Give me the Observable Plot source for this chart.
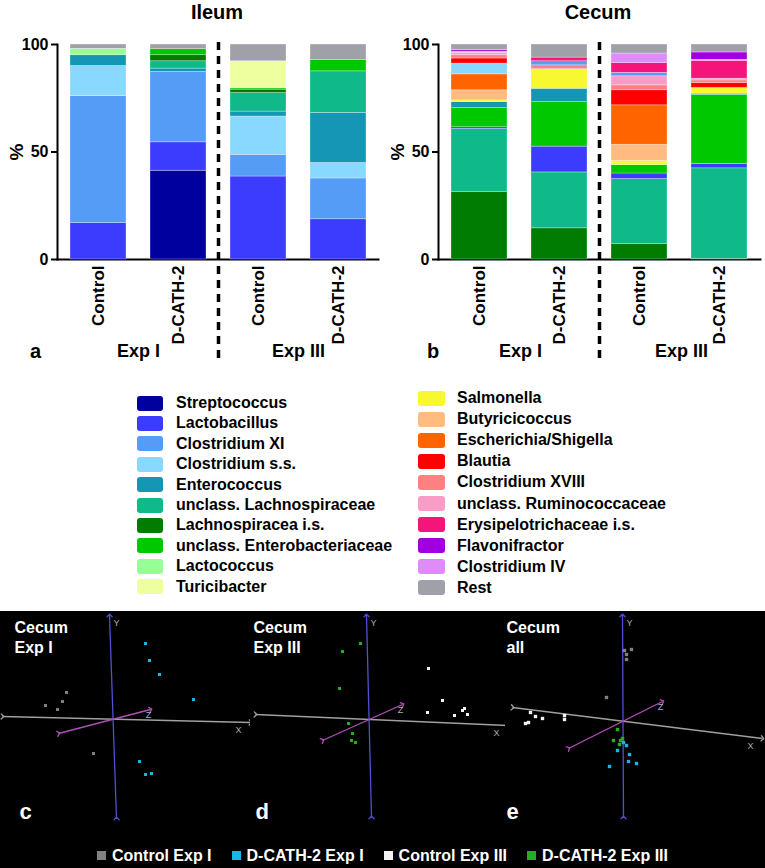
<!DOCTYPE html>
<html><head><meta charset="utf-8">
<script src="https://cdn.jsdelivr.net/npm/d3@7"></script>
<script src="https://cdn.jsdelivr.net/npm/@observablehq/plot@0.6"></script>
<style>
body{margin:0;background:#fff;font-family:"Liberation Sans",Arial,sans-serif;}
#root{position:relative;width:765px;height:868px;overflow:hidden;background:#fff;}
.abs{position:absolute;}
.title{font-weight:bold;font-size:20px;line-height:24px;text-align:center;width:200px;}
.explab{font-weight:bold;font-size:18px;line-height:22px;font-family:"Liberation Sans Narrow","Liberation Sans",Arial,sans-serif;}
.panel{font-weight:bold;font-size:20px;line-height:22px;}
.pct{font-weight:bold;font-size:19px;line-height:20px;transform:rotate(-90deg);transform-origin:center;width:20px;text-align:center;}
.leg{font-weight:bold;font-size:16px;line-height:18px;white-space:nowrap;}
.sw{position:absolute;width:26px;height:15px;border-radius:3px;}
.bars svg [aria-label="frame"], .bars svg [aria-label="frame"] *{stroke-width:2px;}
.bars svg [aria-label^="y-axis tick"] path{stroke-width:2px;}
.bars svg [aria-label="x-axis tick label"]{font-size:17px;}
#black{position:absolute;left:0;top:611px;width:765px;height:257px;background:#000;}
#pleg{position:absolute;left:0;top:236px;width:765px;text-align:center;color:#fff;font-weight:bold;font-size:16px;line-height:18px;}
#pleg span.sq{display:inline-block;width:9px;height:9px;margin:0 6px 1px 0;}
#pleg span.it{margin:0 10px;}
</style></head><body><div id="root"></div><script>
// ---------- data ----------
const taxa = ["Streptococcus","Lactobacillus","Clostridium XI","Clostridium s.s.","Enterococcus",
  "unclass. Lachnospiraceae","Lachnospiracea i.s.","unclass. Enterobacteriaceae","Lactococcus","Turicibacter",
  "Salmonella","Butyricicoccus","Escherichia/Shigella","Blautia","Clostridium XVIII",
  "unclass. Ruminococcaceae","Erysipelotrichaceae i.s.","Flavonifractor","Clostridium IV","Rest"];
const taxaColors = ["#00009e","#3c3cff","#559cf7","#88d8ff","#1496b4",
  "#10b98a","#007d00","#00c800","#96ff96","#eeffa0",
  "#f8f830","#ffbb80","#ff6400","#ff0000","#ff8080",
  "#f99cc8","#f5147a","#a000e0","#e08cf8","#a0a0a8"];
const groups = ["Control I","D-CATH-2 I","Control III","D-CATH-2 III"];
const groupLabels = ["Control","D-CATH-2","Control","D-CATH-2"];

// values per taxon (legend order), percent
const ileumControlI   = [0,17,59,14,5,0,0,0,3,0, 0,0,0,0,0,0,0,0,0,2];
const ileumDcathI     = [41.3,13.2,32.7,0,1.6,3.4,2.8,2.8,0,0, 0,0,0,0,0,0,0,0,0,2.2];
const ileumControlIII = [0,38.6,10.1,17.8,2.3,8.6,1.6,0.6,0,12.6, 0,0,0,0,0,0,0,0,0,7.8];
const ileumDcathIII   = [0,18.7,19,7.2,23.3,19.3,0,5.2,0,0, 0,0,0,0,0,0,0,0,0,7.3];
const cecumControlI   = [0,0.8,0,5,2.8,29.2,31.5,8.9,0,0, 0.8,4.7,7.4,2.4,1.5,1.1,0,0.7,0.6,2.6];
const cecumDcathI     = [0,12,1.9,0,6.2,26,14.5,20.7,0,0, 9.1,0,0,0,1.8,0,1.7,0,0,6.1];
const cecumControlIII = [0,2.6,1.6,0,0,30.1,7.3,3.9,0,0, 2,7.5,18.3,7,2.3,4.2,4.6,0,4.4,4.2];
const cecumDcathIII   = [0,2,0,0,0.5,42.1,0.3,32.2,0,0, 2.7,0,0,2.3,1.2,0.8,8.3,3.4,0.5,3.7];

// stacking order (bottom -> top), indices into taxa
const ileumOrder = [0,1,2,3,4,5,6,7,8,9,10,11,12,13,14,15,16,17,18,19];
const cecumOrder = [0,8,9,6,5,1,7,4,10,11,12,3,13,14,15,2,16,18,17,19];

// PCA (3D projection) panels: axes ends and sample scores
const axesC = [
  {name:"X", color:"#a0a0a0", xNeg:-111, yNeg:2,   xPos:137, yPos:-4,  dx:-12, dy:8},
  {name:"Y", color:"#5050d2", xNeg:3,    yNeg:-100, xPos:-4, yPos:103, dx:7,   dy:8},
  {name:"Z", color:"#b050b8", xNeg:-55,  yNeg:-15, xPos:37,  yPos:9,   dx:-2,  dy:6}];
const axesD = [
  {name:"X", color:"#a0a0a0", xNeg:-113, yNeg:5,   xPos:139, yPos:-6,  dx:-11, dy:8},
  {name:"Y", color:"#5050d2", xNeg:3,    yNeg:-98, xPos:-2,  yPos:104, dx:7,   dy:8},
  {name:"Z", color:"#b050b8", xNeg:-46,  yNeg:-21, xPos:34,  yPos:15,  dx:-2,  dy:6}];
const axesE = [
  {name:"X", color:"#a0a0a0", xNeg:-110, yNeg:14,  xPos:140, yPos:-17, dx:-12, dy:8},
  {name:"Y", color:"#5050d2", xNeg:1,    yNeg:-96, xPos:0,   yPos:106, dx:7,   dy:8},
  {name:"Z", color:"#b050b8", xNeg:-54,  yNeg:-27, xPos:40,  yPos:20,  dx:-2,  dy:6}];
const cControlI   = [[-47,26],[-51,17],[-68,13],[-56,9],[-20,-35]];
const cDcathI     = [[32,75],[36,58],[46,44],[80,19],[26,-43],[32,-56],[38,-55]];
const dDcathIII   = [[-8,76],[-26,68],[-29,31],[-20,-4],[-16,-14],[-17,-21],[-13,-23]];
const dControlIII = [[60,51],[74,19],[59,7],[86,4],[94,9],[96,11],[99,5]];
const eControlI   = [[2,71],[9,72],[4,67],[4,62],[-16,24]];
const eControlIII = [[-92,9],[-87,5],[-80,3],[-58,6],[-58,2],[-94,-1],[-97,-2]];
const eDcathIII   = [[-5,-8],[-9,-19],[-2,-19],[-3,-23],[0,-17]];
const eDcathI     = [[1,-21],[4,-24],[-5,-29],[7,-33],[6,-40],[14,-42],[-13,-45]];
const pcaSeries = ["Control Exp I","D-CATH-2 Exp I","Control Exp III","D-CATH-2 Exp III"];
const pcaColors = ["#808080","#1ab4e6","#f2f2f2","#22b022"];

// ---------- build ----------
const root = document.getElementById("root");
const FONT = "'Liberation Sans', Arial, sans-serif";

function rows(series, order) {
  const out = [];
  series.forEach((vals, gi) => order.forEach(ti => {
    if (vals[ti] > 0) out.push({group: groups[gi], taxon: taxa[ti], value: vals[ti]});
  }));
  return out;
}

function barChart(data, mL, mR) {
  return Plot.plot({
    width: 385, height: 340, marginLeft: mL, marginRight: mR, marginTop: 14, marginBottom: 111,
    style: {fontFamily: FONT, fontWeight: "bold", fontSize: "16px", color: "black", background: "transparent", overflow: "visible"},
    x: {domain: groups, paddingInner: 0.3, paddingOuter: 0.15, tickSize: 0, tickPadding: 6, tickRotate: -90,
        tickFormat: d => groupLabels[groups.indexOf(d)], label: null, line: true},
    y: {domain: [0, 100], ticks: [0, 50, 100], tickSize: 6, tickPadding: 3, line: true, label: null},
    color: {domain: taxa, range: taxaColors},
    marks: [
      Plot.barY(data, {x: "group", y: "value", fill: "taxon", stroke: "white", strokeWidth: 0.6, strokeOpacity: 0.5}),
      Plot.ruleX([groups[1]], {dx: 40, y1: -46, y2: 102, stroke: "black", strokeWidth: 3.5, strokeDasharray: "8,6"})
    ]
  });
}

function place(el, left, top, cls) {
  const d = document.createElement("div");
  d.className = "abs" + (cls ? " " + cls : "");
  d.style.left = left + "px"; d.style.top = top + "px";
  d.appendChild(el); root.appendChild(d); return d;
}
function label(text, left, top, cls, extra) {
  const d = document.createElement("div");
  d.className = "abs " + cls; d.textContent = text;
  d.style.left = left + "px"; d.style.top = top + "px";
  if (extra) Object.assign(d.style, extra);
  root.appendChild(d); return d;
}

place(barChart(rows([ileumControlI, ileumDcathI, ileumControlIII, ileumDcathIII], ileumOrder), 57, 7), 0, 30, "bars");
place(barChart(rows([cecumControlI, cecumDcathI, cecumControlIII, cecumDcathIII], cecumOrder), 58, 5), 380, 30, "bars");

label("Ileum", 117, 0, "title");
label("Cecum", 498, 0, "title");
label("%", 7, 142, "pct");
label("%", 388, 142, "pct");
label("a", 30, 340, "panel");
label("b", 427, 340, "panel");
label("Exp I", 117, 340, "explab");
label("Exp III", 272, 340, "explab");
label("Exp I", 499, 340, "explab");
label("Exp III", 655, 340, "explab");

// legend
taxa.forEach((t, i) => {
  const left = i < 10;
  const j = left ? i : i - 10;
  const cy = left ? 403 + j * 20.4 : 398 + j * 21.1;
  const sw = document.createElement("div");
  sw.className = "sw"; sw.style.background = taxaColors[i];
  sw.style.left = (left ? 137 : 418) + "px"; sw.style.top = (cy - 7.5) + "px";
  if (!left) sw.style.width = "27px";
  root.appendChild(sw);
  label(t, left ? 176 : 457, cy - 9, "leg");
});

// PCA panels
const black = document.createElement("div");
black.id = "black"; root.appendChild(black);

function pcaPanel(width, ox, oy, axes, series, title, titleDx, letter, letterDx, r) {
  const H = 257;
  return Plot.plot({
    width, height: H, margin: 0,
    x: {domain: [-ox, width - ox], axis: null},
    y: {domain: [oy - H, oy], axis: null},
    style: {fontFamily: FONT, background: "black", overflow: "visible"},
    marks: [
      ...axes.map(a => Plot.link([a], {x1: "xNeg", y1: "yNeg", x2: "xPos", y2: "yPos", stroke: a.color, strokeWidth: 1.3, markerStart: "arrow", markerEnd: "arrow"})),
      ...axes.map(a => Plot.text([a], {x: "xPos", y: "yPos", text: "name", dx: a.dx, dy: a.dy, fill: "#b0b0b0", fontSize: 9})),
      ...series.map(s => Plot.dot(s.points, {x: d => d[0], y: d => d[1], symbol: "square", r, fill: pcaColors[s.k], stroke: "none"})),
      Plot.text([title], {frameAnchor: "top-left", dx: titleDx, dy: 7, lineAnchor: "top", textAnchor: "start", lineHeight: 1.25, fill: "white", fontSize: 16, fontWeight: "bold"}),
      Plot.text([letter], {frameAnchor: "bottom-left", dx: letterDx, dy: -57, lineAnchor: "middle", textAnchor: "start", fill: "white", fontSize: 22, fontWeight: "bold"})
    ]
  });
}
function placeIn(el, left) {
  const d = document.createElement("div");
  d.className = "abs"; d.style.left = left + "px"; d.style.top = "0px";
  d.appendChild(el); black.appendChild(d);
}
placeIn(pcaPanel(250, 113, 107, axesC, [{k:0, points:cControlI},{k:1, points:cDcathI}], "Cecum\nExp I", 14, "c", 19, 1.7), 0);
placeIn(pcaPanel(255, 118, 108, axesD, [{k:3, points:dDcathIII},{k:2, points:dControlIII}], "Cecum\nExp III", 3, "d", 5, 1.7), 250);
placeIn(pcaPanel(260, 117, 110, axesE, [{k:0, points:eControlI},{k:2, points:eControlIII},{k:3, points:eDcathIII},{k:1, points:eDcathI}], "Cecum\nall", 1, "e", 1, 1.9), 505);

const pleg = document.createElement("div");
pleg.id = "pleg";
pcaSeries.forEach((s, i) => {
  const it = document.createElement("span"); it.className = "it";
  const sq = document.createElement("span"); sq.className = "sq"; sq.style.background = pcaColors[i];
  it.appendChild(sq); it.appendChild(document.createTextNode(s));
  pleg.appendChild(it);
});
black.appendChild(pleg);
</script></body></html>
